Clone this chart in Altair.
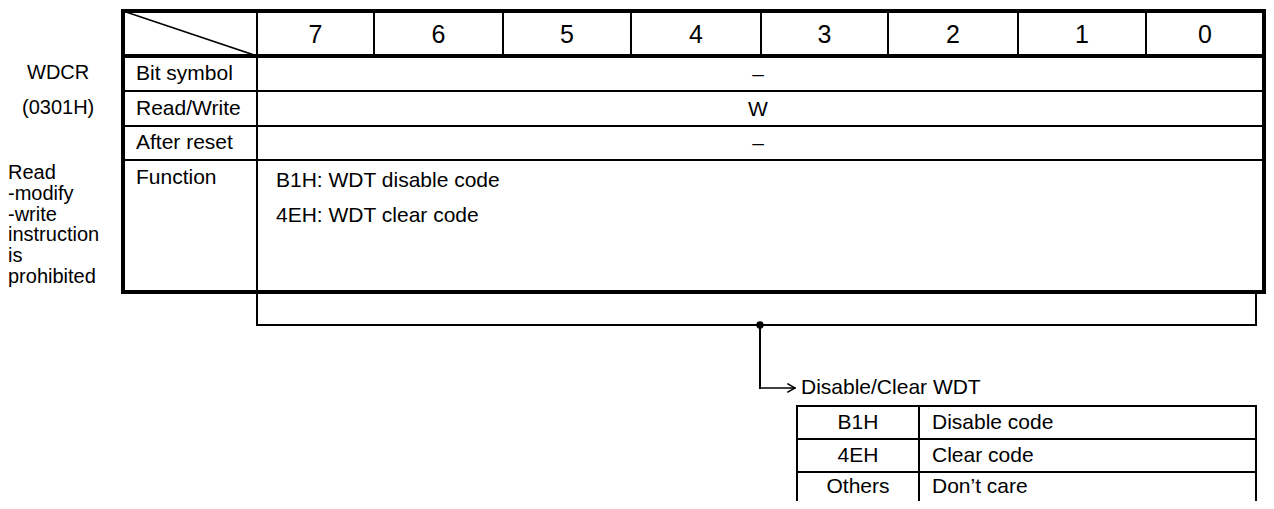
import altair as alt
import pandas as pd

# ---------------- content ----------------
bits = ["7", "6", "5", "4", "3", "2", "1", "0"]
row_labels = ["Bit symbol", "Read/Write", "After reset", "Function"]
row_values = ["\u2013", "W", "\u2013"]
function_lines = ["B1H: WDT disable code", "4EH: WDT clear code"]
register_name = "WDCR"
register_addr = "(0301H)"
note_lines = ["Read", "-modify", "-write", "instruction", "is", "prohibited"]
sub_title = "Disable/Clear WDT"
codes = ["B1H", "4EH", "Others"]
meanings = ["Disable code", "Clear code", "Don\u2019t care"]

# ---------------- layout (page pixel grid) ----------------
PAGE_W, PAGE_H, M = 1274, 509, 8
col_edges = [257, 374, 503, 631, 761, 888, 1018, 1146, 1264]
tbl_left, tbl_top = 123, 11
row_edges = [56, 91, 126, 160, 292]
bracket_y, bracket_right = 325, 1256
tap_x, arrow_y = 760, 388
st_left, st_div, st_right = 797, 919, 1256
st_rows = [406, 439, 472, PAGE_H]
FS = 21
LFS = 20
HFS = 25

lines = []
def L(x, y, x2, y2, w):
    lines.append(dict(x=x, y=y, x2=x2, y2=y2, w=w))

right = col_edges[-1]
bottom = row_edges[-1]
# outer thick border + header bottom
L(tbl_left, tbl_top, right, tbl_top, 4)
L(tbl_left, bottom, right, bottom, 4)
L(tbl_left, tbl_top, tbl_left, bottom, 4)
L(right, tbl_top, right, bottom, 4)
L(tbl_left, row_edges[0], right, row_edges[0], 4)
# row separators
for ry in row_edges[1:-1]:
    L(tbl_left, ry, right, ry, 2)
# label column divider (continues into bracket)
L(col_edges[0], tbl_top, col_edges[0], bracket_y, 2)
# bit dividers in header
for cx in col_edges[1:-1]:
    L(cx, tbl_top, cx, row_edges[0], 2)
# diagonal
L(tbl_left, tbl_top, col_edges[0], row_edges[0], 1.5)
# bracket
L(col_edges[0], bracket_y, bracket_right, bracket_y, 2)
L(bracket_right, bottom, bracket_right, bracket_y, 2)
# connector and arrow
L(tap_x, bracket_y, tap_x, arrow_y, 2)
L(tap_x, arrow_y, st_left - 3, arrow_y, 1.5)
L(st_left - 9, arrow_y - 4, st_left - 2, arrow_y, 1.5)
L(st_left - 9, arrow_y + 4, st_left - 2, arrow_y, 1.5)
# small table
for ry in st_rows[:-1]:
    L(st_left, ry, st_right, ry, 2)
for cx in (st_left, st_div, st_right):
    L(cx, st_rows[0], cx, st_rows[-1], 2)

lines_df = pd.DataFrame(lines)

left_txt, center_txt = [], []
# header digits
for i, b in enumerate(bits):
    center_txt.append(dict(x=(col_edges[i] + col_edges[i + 1]) / 2,
                           y=(tbl_top + row_edges[0]) / 2 + 1, t=b, s=HFS))
# row labels
for i, lab in enumerate(row_labels):
    if i < 3:
        yy = (row_edges[i] + row_edges[i + 1]) / 2
    else:
        yy = row_edges[i] + 18
    left_txt.append(dict(x=136, y=yy, t=lab, s=FS))
# row values
for i, v in enumerate(row_values):
    center_txt.append(dict(x=col_edges[4] - 3,
                           y=(row_edges[i] + row_edges[i + 1]) / 2 + 1, t=v, s=FS))
# function description
for i, f in enumerate(function_lines):
    left_txt.append(dict(x=276, y=row_edges[3] + 21 + 35 * i, t=f, s=FS))
# left notes
left_txt.append(dict(x=27, y=73, t=register_name, s=LFS))
left_txt.append(dict(x=22, y=108, t=register_addr, s=LFS))
for i, n in enumerate(note_lines):
    left_txt.append(dict(x=8, y=173 + 20.8 * i, t=n, s=LFS))
# sub table
left_txt.append(dict(x=st_left + 4, y=arrow_y, t=sub_title, s=FS))
for i in range(3):
    yy = (st_rows[i] + st_rows[i + 1]) / 2 if i < 2 else st_rows[i] + 15
    center_txt.append(dict(x=(st_left + st_div) / 2, y=yy, t=codes[i], s=FS))
    left_txt.append(dict(x=st_div + 13, y=yy, t=meanings[i], s=FS))

left_df = pd.DataFrame(left_txt)
center_df = pd.DataFrame(center_txt)

xs = alt.Scale(domain=[M, PAGE_W - M], nice=False, zero=False)
ys = alt.Scale(domain=[M, PAGE_H - M], nice=False, zero=False, reverse=True)

rules = alt.Chart(lines_df).mark_rule(color="black", strokeCap="square").encode(
    x=alt.X("x:Q", scale=xs, axis=None),
    x2="x2:Q",
    y=alt.Y("y:Q", scale=ys, axis=None),
    y2="y2:Q",
    strokeWidth=alt.StrokeWidth("w:Q", scale=None),
)

dot = alt.Chart(pd.DataFrame([dict(x=tap_x, y=bracket_y)])).mark_circle(
    color="black", opacity=1, size=55).encode(
    x=alt.X("x:Q", scale=xs, axis=None),
    y=alt.Y("y:Q", scale=ys, axis=None),
)

tl = alt.Chart(left_df).mark_text(align="left", baseline="middle",
                                  font="Liberation Sans", color="black").encode(
    x=alt.X("x:Q", scale=xs, axis=None),
    y=alt.Y("y:Q", scale=ys, axis=None),
    text="t:N",
    size=alt.Size("s:Q", scale=None),
)
tc = alt.Chart(center_df).mark_text(align="center", baseline="middle",
                                    font="Liberation Sans", color="black").encode(
    x=alt.X("x:Q", scale=xs, axis=None),
    y=alt.Y("y:Q", scale=ys, axis=None),
    text="t:N",
    size=alt.Size("s:Q", scale=None),
)

chart = alt.layer(rules, dot, tl, tc).properties(
    width=PAGE_W - 2 * M, height=PAGE_H - 2 * M,
    padding=0, autosize=alt.AutoSizeParams(type="none"),
).configure_view(stroke=None)

chart.save("out.html", embed_options={"renderer": "svg", "actions": False})
